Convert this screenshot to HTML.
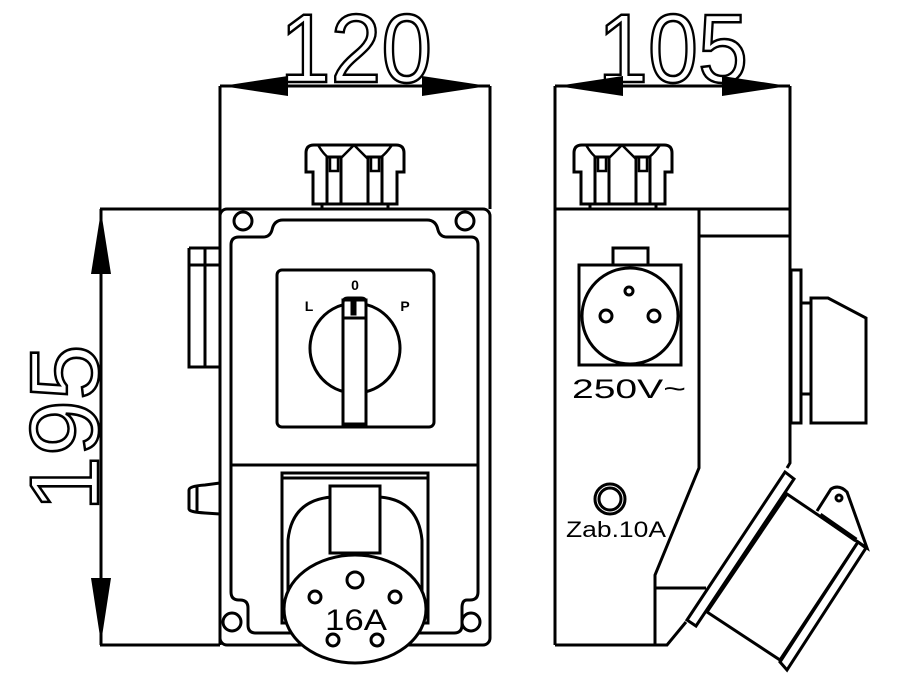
<!DOCTYPE html>
<html><head><meta charset="utf-8"><style>
html,body{margin:0;padding:0;background:#fff;width:920px;height:692px;overflow:hidden}
svg{display:block}
text{font-family:"Liberation Sans",sans-serif}
</style></head><body>
<svg width="920" height="692" viewBox="0 0 920 692" xmlns="http://www.w3.org/2000/svg">
<defs>
<g id="gland">
<path d="M0,27 L0,8 Q0,0 8,0 L90,0 Q98,0 98,8 L98,27 L91,27 L91,59 L7,59 L7,27 Z" fill="#fff" stroke="#000" stroke-width="3"/>
<path d="M12,0 Q24,20 34,14 M48,0 Q38,10 34,14 M48,0 Q58,10 62,14 M86,0 Q72,20 62,14" fill="none" stroke="#000" stroke-width="2.5"/>
<rect x="21" y="12" width="14" height="47" fill="#fff" stroke="#000" stroke-width="3"/>
<rect x="24" y="12" width="8" height="14" fill="none" stroke="#000" stroke-width="2.5"/>
<rect x="62" y="12" width="14" height="47" fill="#fff" stroke="#000" stroke-width="3"/>
<rect x="65" y="12" width="8" height="14" fill="none" stroke="#000" stroke-width="2.5"/>
<path d="M16,59 V64 M82,59 V64" stroke="#000" stroke-width="3"/>
</g>
</defs>
<g stroke="#000" stroke-width="3" fill="none">
<!-- LEFT VIEW dims -->
<path d="M220,86 V645 M490,86 V209 M220,86 H490 M100,209 H220 M100,645 H220 M101,209 V645"/>
</g>
<g fill="#000">
<polygon points="222,86 288,76 288,96"/>
<polygon points="488,86 422,76 422,96"/>
<polygon points="101,211 91,274 111,274"/>
<polygon points="101,643 91,578 111,578"/>
<polygon points="557,86 623,76 623,96"/>
<polygon points="788,86 722,76 722,96"/>
</g>
<text x="356" y="82" font-size="97" text-anchor="middle" textLength="152" lengthAdjust="spacingAndGlyphs" fill="none" stroke="#000" stroke-width="2.5">120</text>
<text x="673" y="82" font-size="97" text-anchor="middle" textLength="150" lengthAdjust="spacingAndGlyphs" fill="none" stroke="#000" stroke-width="2.5">105</text>
<text transform="translate(98,428) rotate(-90)" x="0" y="0" font-size="97" text-anchor="middle" textLength="167" lengthAdjust="spacingAndGlyphs" fill="none" stroke="#000" stroke-width="2.5">195</text>

<g stroke="#000" stroke-width="3" fill="none">
<!-- left body -->
<rect x="220" y="209" width="270" height="436" rx="7" fill="#fff"/>
<use href="#gland" x="306" y="145"/>
<path d="M231,245 Q231,237 239,237 H263 Q270,237 272,230 Q274,220 283,220 H427 Q436,220 438,230 Q440,237 447,237 H471 Q478,237 478,245 V592 Q478,600 470,600 H467 Q462,600 462,608 V625 Q462,633 454,633 H256 Q248,633 248,625 V608 Q248,600 240,600 H239 Q231,600 231,592 Z"/>
<circle cx="243" cy="221" r="9"/><circle cx="465" cy="221" r="9"/>
<circle cx="232" cy="622" r="9"/><circle cx="471" cy="622" r="9"/>
<path d="M189,248 H220 M189,248 V367 H220 M205,248 V367 M189,265 H220"/>
<path d="M220,483 L205,485 Q189,486 189,490 V509 Q189,512 205,513 L220,514 M197,486 V512"/>
<!-- switch -->
<rect x="277" y="270" width="157" height="157" rx="5"/>
<path d="M345,392 A45,45 0 1 1 365,392"/>
<rect x="343" y="300" width="23" height="124" fill="#fff"/>
<path d="M343,318 H366 M343,303 Q343,298 348,298 H361 Q366,298 366,303"/>
<rect x="351" y="301" width="5" height="14" fill="#000" stroke-width="1"/>
<path d="M232,465 H477"/>
<!-- socket -->
<rect x="282" y="473" width="146" height="150" fill="#fff"/>
<path d="M282,478 H428"/>
<path d="M288,625 V540 Q292,500 332,497 M380,497 Q418,500 422,540 V625"/>
<rect x="330" y="486" width="50" height="67" fill="#fff"/>
<ellipse cx="355" cy="609" rx="71" ry="54" fill="#fff"/>
<circle cx="355" cy="580" r="8"/>
<circle cx="315" cy="597" r="6"/><circle cx="395" cy="597" r="6"/>
<circle cx="333" cy="640" r="6"/><circle cx="377" cy="640" r="6"/>
</g>
<text x="356" y="630" font-size="30" text-anchor="middle" textLength="62" lengthAdjust="spacingAndGlyphs">16A</text>
<text x="355" y="290" font-size="14" font-weight="bold" text-anchor="middle">0</text>
<text x="309" y="311" font-size="14" font-weight="bold" text-anchor="middle">L</text>
<text x="405" y="311" font-size="14" font-weight="bold" text-anchor="middle">P</text>

<!-- RIGHT VIEW -->
<g stroke="#000" stroke-width="3" fill="none">
<use href="#gland" x="574" y="145"/>
<path d="M555,86 V645 M790,86 V209 M555,86 H790"/>
<path d="M555,209 H790 V463 L787,468 M699,209 V468 L655,575 V645 M555,645 H667 L686,622 M699,236 H790 M655,588 H706"/>
<rect x="579" y="265" width="102" height="100"/>
<rect x="613" y="248" width="35" height="17"/>
<circle cx="630" cy="316" r="48" fill="#fff"/>
<circle cx="629" cy="291" r="4"/>
<circle cx="606" cy="316" r="6"/><circle cx="654" cy="316" r="6"/>
<circle cx="610" cy="499" r="15"/><circle cx="610" cy="499" r="11"/>
<rect x="791" y="270" width="10" height="153"/>
<path d="M801,303 H811 M801,394 H811 M811,298 H828 L866,318 V423 H811 Z"/>
<!-- angled plug -->
<polygon points="785,472 794,479 696,626 687,620" fill="#fff"/>
<polygon points="787,494 858,542 780,660 707,612" fill="#fff"/>
<polygon points="858,542 866,548 787,670 780,662" fill="#fff"/>
<path d="M817,511 L831,489 Q839,484 847,492 L867,548 L858,542"/>
<path d="M820,515 L856,540" stroke-width="5"/>
<circle cx="839" cy="498" r="3"/>
</g>
<text x="629" y="398" font-size="27" text-anchor="middle" textLength="114" lengthAdjust="spacingAndGlyphs">250V~</text>
<text x="616" y="537" font-size="22" text-anchor="middle" textLength="100" lengthAdjust="spacingAndGlyphs">Zab.10A</text>
</svg>
</body></html>
